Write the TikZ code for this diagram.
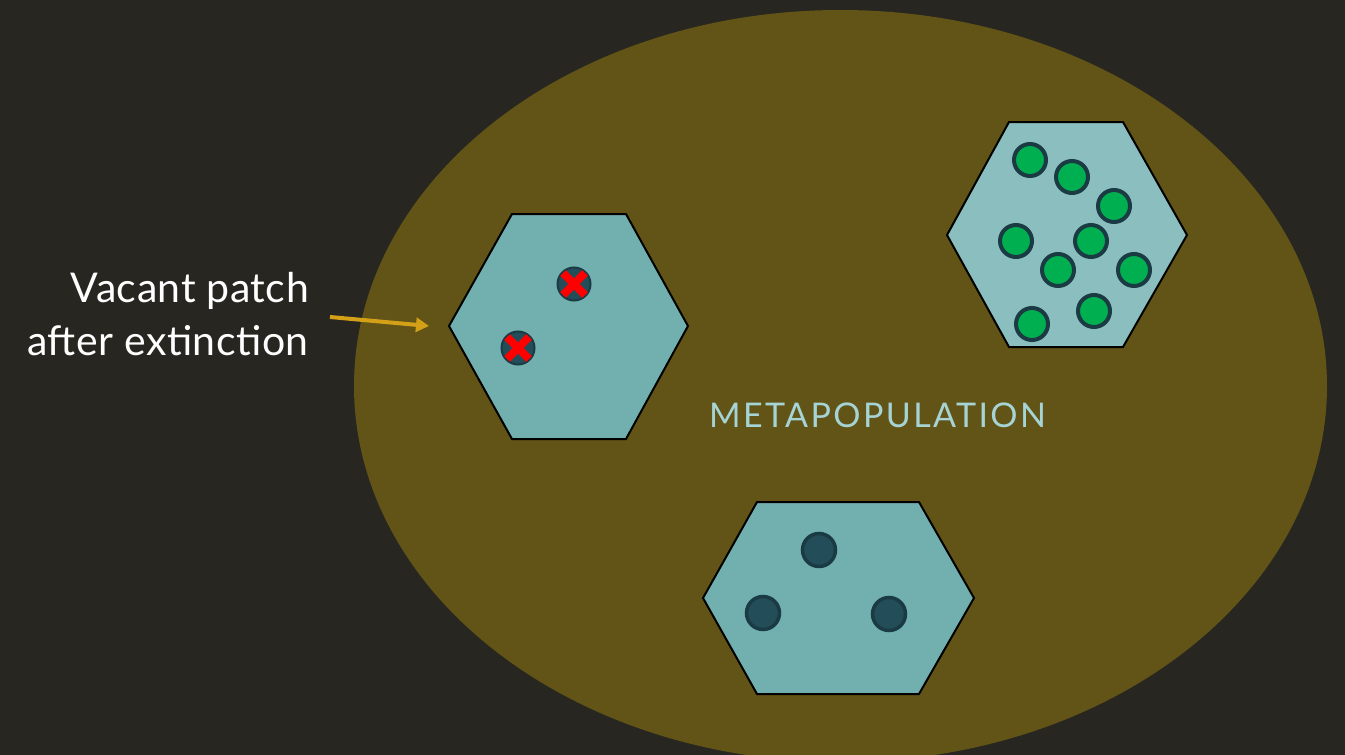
\documentclass[tikz,border=0pt]{standalone}
\usepackage{fontspec}
\setmainfont{Lato}
\usetikzlibrary{arrows.meta}
\definecolor{bgc}{RGB}{39,38,33}
\definecolor{olive}{RGB}{97,84,22}
\definecolor{teal1}{RGB}{114,176,176}
\definecolor{teal2}{RGB}{139,190,190}
\definecolor{darkdot}{RGB}{35,77,88}
\definecolor{dotrim}{RGB}{27,59,68}
\definecolor{greendot}{RGB}{0,176,80}
\definecolor{metac}{RGB}{166,211,212}
\definecolor{arrowc}{RGB}{212,160,23}
\tikzset{
  hexpatch/.style={draw=black, line width=2pt, line join=miter},
  deaddot/.style={circle, fill=darkdot, draw=dotrim, line width=2pt, minimum size=33pt, inner sep=0pt},
  livedot/.style={circle, fill=greendot, draw=dotrim, line width=4pt, minimum size=32pt, inner sep=0pt},
  oldot/.style={circle, fill=darkdot, draw=dotrim, line width=3.5pt, minimum size=33pt, inner sep=0pt},
  redx/.style={draw=red, line width=8pt},
  label/.style={text=white, font=\fontsize{41}{50}\selectfont\addfontfeatures{LetterSpace=1.2}, inner sep=0pt},
}
\begin{document}
\begin{tikzpicture}[x=1pt,y=-1pt]
\fill[bgc] (0,0) rectangle (1345,755);
\useasboundingbox (0,0) rectangle (1345,755);
\fill[olive] (840.5,386) ellipse [x radius=486.5, y radius=376];

% left hexagon
\draw[hexpatch, fill=teal1] (512,214) -- (626,214) -- (688,326) -- (626,439) -- (512,439) -- (449,326) -- cycle;
\coordinate (hexL) at (449,326);
% right hexagon
\draw[hexpatch, fill=teal2] (1009,122) -- (1123,122) -- (1187,235) -- (1123,347) -- (1009,347) -- (947,235) -- cycle;
% bottom hexagon
\draw[hexpatch, fill=teal1] (757,502) -- (919,502) -- (974,598) -- (919,694) -- (757,694) -- (703,598) -- cycle;

% extinct dots
\node[deaddot] (d1) at (574,284) {};
\node[deaddot] (d2) at (518,348) {};
\foreach \n in {d1,d2}{
  \draw[redx] ([shift={(-11,-11)}]\n.center) -- ([shift={(11,11)}]\n.center);
  \draw[redx] ([shift={(-11,11)}]\n.center) -- ([shift={(11,-11)}]\n.center);
}

% green dots
\node[livedot] (g1) at (1030,160) {};
\node[livedot] (g2) at (1072,177) {};
\node[livedot] (g3) at (1114,206) {};
\node[livedot] (g4) at (1016,241) {};
\node[livedot] (g5) at (1091,241) {};
\node[livedot] (g6) at (1058,270) {};
\node[livedot] (g7) at (1134,270) {};
\node[livedot] (g8) at (1094,311) {};
\node[livedot] (g9) at (1032,324) {};

% bottom dots
\node[oldot] (b1) at (819,550) {};
\node[oldot] (b2) at (763,613) {};
\node[oldot] (b3) at (889,614) {};

% labels
\node[label, anchor=base east] (lab1) at (309,302) {Vacant patch};
\node[label, anchor=base east] (lab2) at (309,355) {after extinction};
\node[text=metac, font=\fontsize{34}{40}\selectfont\addfontfeatures{LetterSpace=7}, inner sep=0pt, anchor=base] (meta) at (877.5,427) {METAPOPULATION};

% arrow
\coordinate (arrS) at (330,317);
\coordinate (arrE) at (429,326);
\draw[arrowc, line width=4pt, -{Triangle[length=13pt,width=14pt]}] (arrS) -- (arrE);
\end{tikzpicture}
\end{document}
